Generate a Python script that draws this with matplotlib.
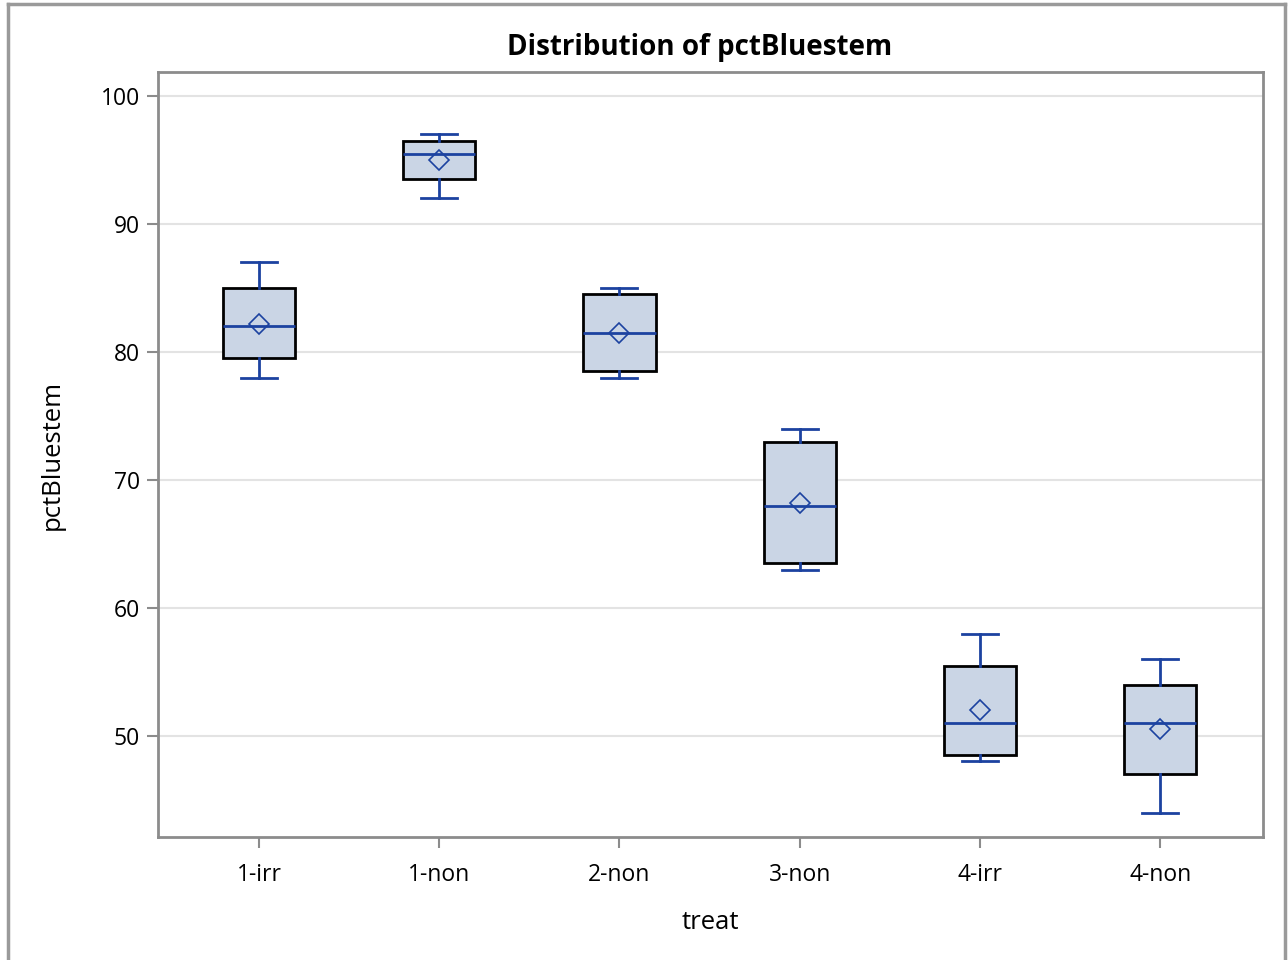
import matplotlib
matplotlib.use("Agg")
import matplotlib.pyplot as plt
from matplotlib.lines import Line2D

treatments = ["1-irr", "1-non", "2-non", "3-non", "4-irr", "4-non"]
whisker_low = [78, 92, 78, 63, 48, 44]
q1 = [79.5, 93.5, 78.5, 63.5, 48.5, 47]
medians = [82, 95.5, 81.5, 68, 51, 51]
q3 = [85, 96.5, 84.5, 73, 55.5, 54]
whisker_high = [87, 97, 85, 74, 58, 56]
means = [82.2, 95, 81.5, 68.2, 52, 50.5]
y_ticks = [50, 60, 70, 80, 90, 100]

plt.rcParams["font.family"] = ["Open Sans", "DejaVu Sans"]

fill_color = "#CAD5E5"
line_color = "#1C42A0"
grid_color = "#E3E3E3"
frame_color = "#8C8C8C"

fig = plt.figure(figsize=(12.88, 9.6), dpi=100)
ax = fig.add_axes([158 / 1288, 123 / 960, 1105 / 1288, 765 / 960])

stats = []
for i, name in enumerate(treatments):
    stats.append({
        "label": name,
        "whislo": whisker_low[i],
        "q1": q1[i],
        "med": medians[i],
        "q3": q3[i],
        "whishi": whisker_high[i],
        "mean": means[i],
        "fliers": [],
    })

ax.bxp(
    stats,
    positions=range(len(treatments)),
    widths=0.4,
    patch_artist=True,
    showmeans=True,
    showfliers=False,
    boxprops=dict(facecolor=fill_color, edgecolor="black", linewidth=2),
    medianprops=dict(color=line_color, linewidth=2),
    whiskerprops=dict(color=line_color, linewidth=2),
    capprops=dict(color=line_color, linewidth=2),
    capwidths=0.2,
    meanprops=dict(marker="D", markerfacecolor="none", markeredgecolor=line_color,
                   markersize=10, markeredgewidth=1.2),
    zorder=3,
)

ax.set_xlim(-0.56, 5.57)
ax.set_ylim(42.1, 101.875)
ax.set_yticks(y_ticks)
ax.set_xticks(range(len(treatments)))
ax.set_xticklabels(treatments)
ax.yaxis.grid(True, color=grid_color, linewidth=1.5, zorder=0)
ax.set_axisbelow(True)

for side in ax.spines.values():
    side.set_color(frame_color)
    side.set_linewidth(2)

ax.tick_params(axis="both", colors=frame_color, labelcolor="black",
               labelsize=16.5, length=8, width=1.5)
ax.tick_params(axis="x", pad=11)
ax.tick_params(axis="y", pad=5)

ax.set_xlabel("treat", fontsize=18.5, labelpad=16)
ax.set_ylabel("pctBluestem", fontsize=18.5, labelpad=26)
ax.set_title("Distribution of pctBluestem", fontsize=20, fontweight="bold",
             pad=12, x=0.49)

# outer frame of the graph
fig.add_artist(Line2D([8 / 1288, 8 / 1288], [0, 956 / 960], transform=fig.transFigure,
                      color="#9A9A9A", linewidth=2.5))
fig.add_artist(Line2D([1285 / 1288, 1285 / 1288], [0, 956 / 960], transform=fig.transFigure,
                      color="#9A9A9A", linewidth=2.5))
fig.add_artist(Line2D([8 / 1288, 1285 / 1288], [956 / 960, 956 / 960], transform=fig.transFigure,
                      color="#9A9A9A", linewidth=2.5))

fig.savefig("out.png", dpi=100)
